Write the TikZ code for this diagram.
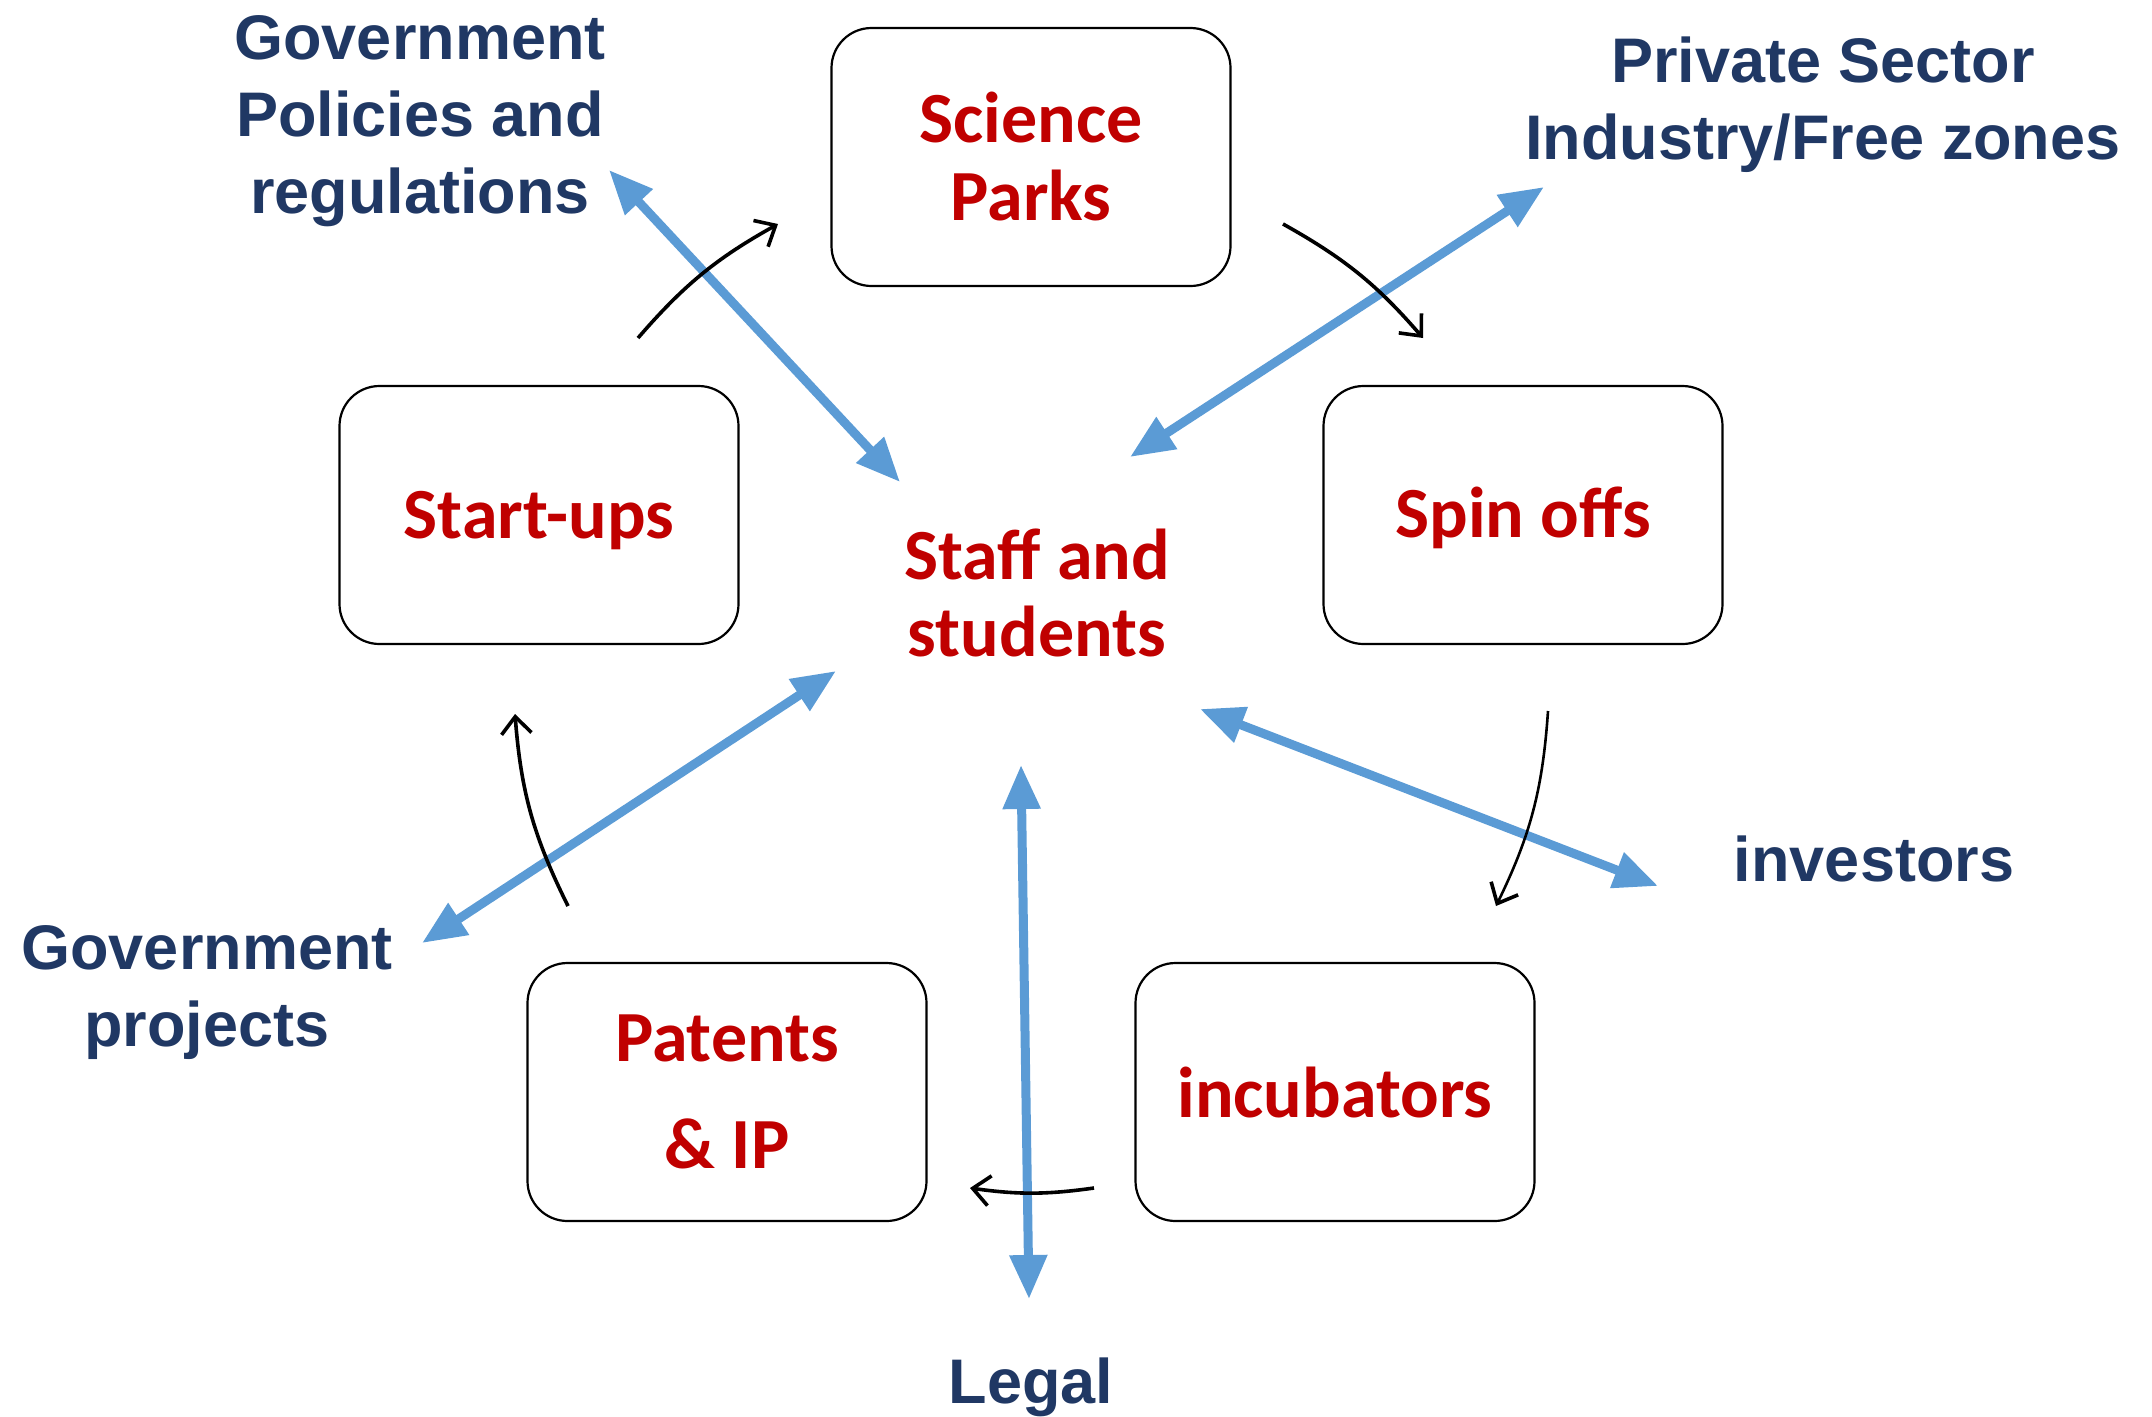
\documentclass[tikz,border=0pt]{standalone}
\usepackage{fontspec}
\setmainfont{Liberation Sans}
\newfontfamily\calfont{Carlito}
\usetikzlibrary{arrows.meta}
\definecolor{stagered}{HTML}{C00000}
\definecolor{partnerblue}{HTML}{203864}
\definecolor{linkblue}{HTML}{5B9BD5}
\begin{document}
\begin{tikzpicture}[x=1pt,y=1pt,
  stagebox/.style={draw=black, line width=2.2pt, rounded corners=40pt,
    minimum width=399pt, minimum height=258pt, align=center, text=stagered,
    font=\calfont\bfseries\fontsize{72}{78}\selectfont},
  hub/.style={align=center, text=stagered,
    font=\calfont\bfseries\fontsize{72}{77}\selectfont},
  partner/.style={align=center, text=partnerblue,
    font=\bfseries\fontsize{63}{77}\selectfont},
  link/.style={draw=linkblue, line width=9pt,
    {Triangle[length=44pt,width=36pt]}-{Triangle[length=44pt,width=36pt]}},
  cycle/.style={draw=black, line width=3.6pt,
    -{Straight Barb[length=17pt,width=30pt,line width=3.6pt]}}
]
\useasboundingbox (0,0) rectangle (2152,-1416);

% stages of the cycle
\node[stagebox] (science) at (1031,-157) {Science\\Parks};
\node[stagebox, text depth=6pt] (spin) at (1523,-515) {Spin offs};
\node[stagebox] (incub) at (1335,-1092) {incubators};
\node[stagebox, font=\calfont\bfseries\fontsize{72}{107}\selectfont] (patents) at (727,-1092) {Patents\\\& IP};
\node[stagebox, text depth=0pt] (startups) at (539,-515) {Start-ups};

% centre
\node[hub] (staff) at (1037,-593) {Staff and\\students};

% outside partners
\node[partner] (govpol) at (420,-121) {Government\\Policies and\\regulations};
\node[partner] (private) at (1823,-105) {Private Sector\\Industry/Free zones};
\node[partner] (investors) at (1874,-859) {investors};
\node[partner] (govproj) at (207,-993) {Government\\projects};
\node[partner] (legal) at (1031,-1387) {Legal};

% ends of the two-way links
\coordinate (govpolEnd) at (609,-170);
\coordinate (govpolHub) at (900,-482);
\coordinate (privateEnd) at (1544,-187);
\coordinate (privateHub) at (1130,-457);
\coordinate (investorsHub) at (1200,-709);
\coordinate (investorsEnd) at (1658,-886);
\coordinate (govprojHub) at (836,-671);
\coordinate (govprojEnd) at (422,-943);
\coordinate (legalHub) at (1021,-765);
\coordinate (legalEnd) at (1029,-1299);

\draw[link] (govpolEnd) -- (govpolHub);
\draw[link] (privateEnd) -- (privateHub);
\draw[link] (investorsHub) -- (investorsEnd);
\draw[link] (govprojHub) -- (govprojEnd);
\draw[link] (legalHub) -- (legalEnd);

% ends of the cycle arrows
\coordinate (c1a) at (638,-338);
\coordinate (c1b) at (778,-224);
\coordinate (c2a) at (1283,-224);
\coordinate (c2b) at (1423,-338);
\coordinate (c3a) at (1548,-711);
\coordinate (c3b) at (1496,-906);
\coordinate (c4a) at (1094,-1188);
\coordinate (c4b) at (970,-1188);
\coordinate (c5a) at (568,-906);
\coordinate (c5b) at (515,-714);

\draw[cycle] (c1a) to[bend left=10] (c1b);
\draw[cycle] (c2a) to[bend left=10] (c2b);
\draw[cycle, line width=2.6pt] (c3a) to[bend left=11] (c3b);
\draw[cycle] (c4a) to[bend left=8] (c4b);
\draw[cycle] (c5a) to[bend left=11] (c5b);
\end{tikzpicture}
\end{document}
